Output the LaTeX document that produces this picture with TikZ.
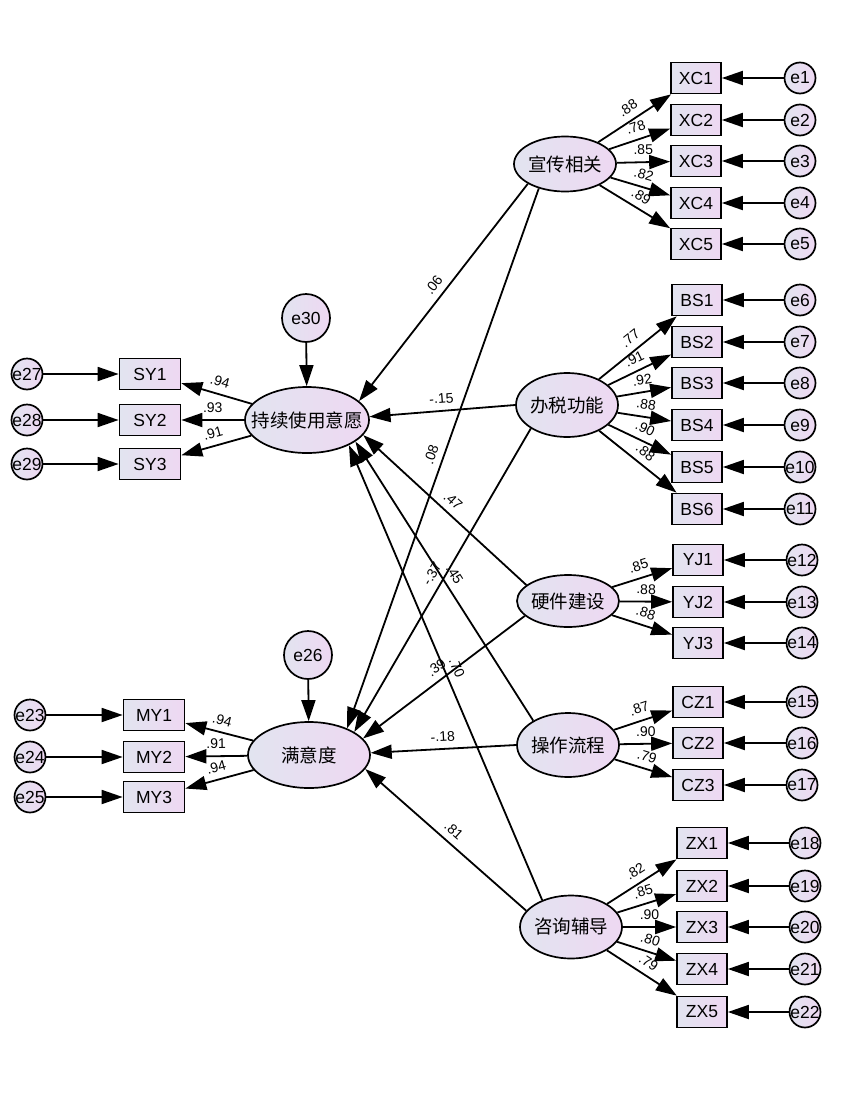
\documentclass[tikz,border=0pt]{standalone}
\usepackage{fontspec}
\setmainfont{Liberation Sans}
\newfontfamily\cjk{Noto Sans CJK SC}
\usetikzlibrary{shapes.geometric,arrows.meta}
\definecolor{fillL}{RGB}{226,228,240}
\definecolor{fillR}{RGB}{238,216,242}
\newcommand\zt[1]{\makebox[0pt]{#1}}
\begin{document}
\begin{tikzpicture}[x=1pt,y=-1pt,
 lat/.style={ellipse, draw, line width=1.7pt, inner sep=0pt, left color=fillL, right color=fillR, font=\cjk\fontsize{18.5}{18.5}\selectfont},
 obs/.style={rectangle, draw, line width=1.7pt, minimum width=50pt, minimum height=31pt, inner sep=0pt, left color=fillL, right color=fillR, font=\fontsize{17.5}{17.5}\selectfont},
 wobs/.style={obs, minimum width=61pt},
 err/.style={circle, draw, line width=1.7pt, minimum size=31pt, inner sep=0pt, left color=fillL, right color=fillR, font=\fontsize{17.5}{17.5}\selectfont},
 berr/.style={err, minimum size=48pt},
 arr/.style={line width=1.8pt, -{Triangle[length=21pt,width=14pt]}},
 lbl/.style={sloped, above=5pt, inner sep=1.5pt, font=\fontsize{14}{14}\selectfont},
]
\useasboundingbox (0,0) rectangle (850,1100);

% latent variables
\node[lat, minimum width=102pt, minimum height=55pt] (xc) at (565,164) {\zt{宣传相关}};
\node[lat, minimum width=102pt, minimum height=64pt] (bs) at (567,405) {\zt{办税功能}};
\node[lat, minimum width=102pt, minimum height=52pt] (yj) at (568,601) {\zt{硬件建设}};
\node[lat, minimum width=102pt, minimum height=64pt] (cz) at (568,745) {\zt{操作流程}};
\node[lat, minimum width=102pt, minimum height=63pt] (zx) at (571,927) {\zt{咨询辅导}};
\node[lat, minimum width=124pt, minimum height=66pt] (sy) at (307,420) {\zt{持续使用意愿}};
\node[lat, minimum width=122pt, minimum height=66pt] (my) at (309,755) {\zt{满意度}};

\node[berr] (e30) at (306,318) {\zt{e30}};
\node[berr] (e26) at (308,655) {\zt{e26}};

% XC
\foreach \i/\y/\l in {1/78/.88, 2/120/.78, 3/161/.85, 4/203/.82, 5/244/.89}{
  \node[obs] (XC\i) at (696,\y) {\zt{XC\i}};
  \node[err] (e\i) at (800,\y) {\zt{e\i}};
  \draw[arr] (e\i) -- (XC\i);
  \draw[arr] (xc) -- node[lbl]{\l} (XC\i);
}
% BS
\foreach \i/\y/\l/\e in {1/300/.77/6, 2/342/.91/7, 3/383/.92/8, 4/425/.88/9, 5/467/.90/10, 6/509/.88/11}{
  \node[obs] (BS\i) at (697,\y) {\zt{BS\i}};
  \node[err] (e\e) at (800,\y) {\zt{e\e}};
  \draw[arr] (e\e) -- (BS\i);
  \draw[arr] (bs) -- node[lbl]{\l} (BS\i);
}
% YJ
\foreach \i/\y/\l/\e in {1/560/.85/12, 2/602/.88/13, 3/643/.88/14}{
  \node[obs] (YJ\i) at (698,\y) {\zt{YJ\i}};
  \node[err] (e\e) at (802,\y) {\zt{e\e}};
  \draw[arr] (e\e) -- (YJ\i);
  \draw[arr] (yj) -- node[lbl]{\l} (YJ\i);
}
% CZ
\foreach \i/\y/\l/\e in {1/702/.87/15, 2/743/.90/16, 3/785/.79/17}{
  \node[obs] (CZ\i) at (698,\y) {\zt{CZ\i}};
  \node[err] (e\e) at (802,\y) {\zt{e\e}};
  \draw[arr] (e\e) -- (CZ\i);
  \draw[arr] (cz) -- node[lbl]{\l} (CZ\i);
}
% ZX
\foreach \i/\y/\l/\e in {1/843/.82/18, 2/886/.85/19, 3/927/.90/20, 4/969/.80/21, 5/1012/.79/22}{
  \node[obs] (ZX\i) at (702,\y) {\zt{ZX\i}};
  \node[err] (e\e) at (805,\y) {\zt{e\e}};
  \draw[arr] (e\e) -- (ZX\i);
  \draw[arr] (zx) -- node[lbl]{\l} (ZX\i);
}
% SY
\foreach \i/\y/\l/\e in {1/374/.94/27, 2/420/.93/28, 3/464/.91/29}{
  \node[wobs] (SY\i) at (150,\y) {\zt{SY\i}};
  \node[err] (e\e) at (27,\y) {\zt{e\e}};
  \draw[arr] (e\e) -- (SY\i);
  \draw[arr] (sy) -- node[lbl]{\l} (SY\i);
}
% MY
\foreach \i/\y/\l/\e in {1/715/.94/23, 2/757/.91/24, 3/797/.94/25}{
  \node[wobs] (MY\i) at (154,\y) {\zt{MY\i}};
  \node[err] (e\e) at (30,\y) {\zt{e\e}};
  \draw[arr] (e\e) -- (MY\i);
  \draw[arr] (my) -- node[lbl]{\l} (MY\i);
}

\draw[arr] (e30) -- (sy);
\draw[arr] (e26) -- (my);

% structural paths
\draw[arr] (xc.-152) -- node[lbl]{.06} (sy.20);
\draw[arr] (xc.-137) -- node[lbl]{.08} (my.35);
\draw[arr] (bs.180) -- node[lbl]{-.15} (sy.3);
\draw[arr] (bs.-147) -- node[lbl]{-.37} (my.27);
\draw[arr] (yj.159) -- node[lbl]{.47} (sy.-15);
\draw[arr] (yj.-161) -- node[lbl]{.39} (my.17);
\draw[arr] (cz.145) -- node[lbl]{.45} (sy.-24);
\draw[arr] (cz.180) -- node[lbl]{-.18} (my.2);
\draw[arr] (zx.137) -- node[lbl]{.70} (sy.-31);
\draw[arr] (zx.160) -- node[lbl]{.81} (my.-14);
\end{tikzpicture}
\end{document}
